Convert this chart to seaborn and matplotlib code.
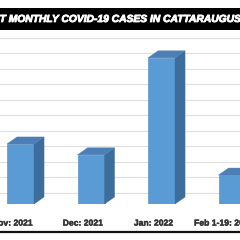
import matplotlib as mpl
mpl.use("Agg")
import matplotlib.pyplot as plt
import matplotlib.transforms as mtransforms
import matplotlib.patheffects as pe
from matplotlib.patches import Polygon, Rectangle
from matplotlib.lines import Line2D
import seaborn as sns

# data
months = ["Nov: 2021", "Dec: 2021", "Jan: 2022", "Feb 1-19: 2022"]
cases = [965, 790, 2350, 465]
grid_values = [177 + 250 * k for k in range(11)]
title = "T MONTHLY COVID-19 CASES IN CATTARAUGUS"

FRONT = "#5B9BD5"
SIDE = "#3C6D9B"
TOP = "#4B7FB6"

sns.set_style("white")
plt.rcParams["font.family"] = ["Liberation Sans", "DejaVu Sans"]

fig = plt.figure(figsize=(2.4, 2.4), dpi=100)
ax = fig.add_axes([0, 36 / 240, 1, 174 / 240])

sns.barplot(x=months, y=cases, color=FRONT, width=0.383, saturation=1,
            edgecolor="#4A86C0", linewidth=0.4, ax=ax, zorder=3)

# fake 3d depth on each bar
dx, dy = 0.142, 113
for p in ax.patches[:len(cases)]:
    x0, w, h = p.get_x(), p.get_width(), p.get_height()
    x1 = x0 + w
    side = Polygon([(x1, 0), (x1 + dx, dy), (x1 + dx, h + dy), (x1, h)],
                   closed=True, facecolor=SIDE, edgecolor=SIDE, lw=0.3, zorder=3)
    top = Polygon([(x0, h), (x0 + dx, h + dy), (x1 + dx, h + dy), (x1, h)],
                  closed=True, facecolor=TOP, edgecolor=TOP, lw=0.3, zorder=3)
    ax.add_patch(side)
    ax.add_patch(top)

ax.set_xlim(-0.291, 3.113)
ax.set_ylim(0, 2798)
ax.set_yticks(grid_values)
ax.set_yticklabels([])
ax.grid(axis="y", color="#E1E1E1", linewidth=0.9, zorder=0)
ax.set_axisbelow(True)
for s in ax.spines.values():
    s.set_visible(False)
ax.set_xlabel("")
ax.set_ylabel("")
ax.tick_params(axis="x", length=0, pad=10.5, labelsize=6.2)
ax.tick_params(axis="y", length=0)
offset = mtransforms.ScaledTranslation(-8 / 100, 0, fig.dpi_scale_trans)
for lab in ax.get_xticklabels():
    lab.set_fontweight("bold")
    lab.set_color("#333333")
    lab.set_path_effects([pe.withStroke(linewidth=0.3, foreground="#333333")])
    lab.set_transform(lab.get_transform() + offset)

# black title band
fig.patches.append(Rectangle((0, 210 / 240), 1, 22 / 240, transform=fig.transFigure,
                             facecolor="black", edgecolor="none", zorder=5))
fig.text(0.5, 221 / 240, title, ha="center", va="center", color="white",
         fontsize=7.4, fontweight="bold", fontstyle="italic", zorder=6,
         path_effects=[pe.withStroke(linewidth=0.6, foreground="white")])

# dark rule at the bottom
fig.add_artist(Line2D([0, 1], [8 / 240, 8 / 240], transform=fig.transFigure,
                      color="#111111", linewidth=1.6))

fig.savefig("out.png", dpi=100)
